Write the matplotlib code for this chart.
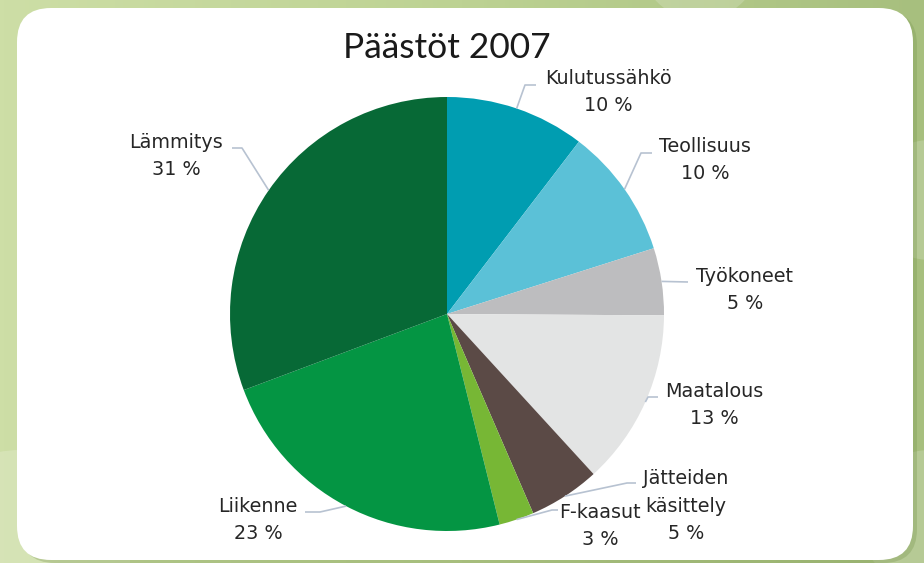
import numpy as np
import matplotlib
matplotlib.use("Agg")
import matplotlib.pyplot as plt
from matplotlib.patches import FancyBboxPatch, Circle
from matplotlib.colors import LinearSegmentedColormap

# data (share of emissions, %)
categories = ["Kulutussähkö", "Teollisuus", "Työkoneet", "Maatalous",
              "Jätteiden\nkäsittely", "F-kaasut", "Liikenne", "Lämmitys"]
shares = [10.4, 9.7, 5.0, 13.1, 5.3, 2.6, 23.2, 30.7]
colors = ["#009DB1", "#5BC1D7", "#BDBDBF", "#E3E4E4",
          "#5B4A46", "#77B735", "#049543", "#076936"]
title = "Päästöt 2007"

W, H = 924, 563
cx, cy, R = 447, 314, 217   # pie centre / radius in px (y from top)

# label layout: text centre (px from top) and elbow of the leader line
label_pos = [(608, 92), (705, 160), (745, 290), (714, 405),
             (686, 506), (600, 526), (258, 520), (176, 156)]
elbows = [[(525, 85), (536, 85)], [(641, 153), (652, 153)],
          [(688, 282)], [(648, 397), (658, 397)],
          [(627, 483), (636, 483)], [(552, 510), (558, 510)],
          [(320, 512), (305, 512)], [(242, 148), (232, 148)]]


def ty(y):
    return H - y


fig = plt.figure(figsize=(W / 100, H / 100), dpi=100)
ax = fig.add_axes([0, 0, 1, 1])

# green background with soft gradient
bg = LinearSegmentedColormap.from_list("bg", ["#CDDEA6", "#BDD293", "#A7BF7E"])
ax.imshow(np.linspace(0, 1, 256)[None, :], cmap=bg, aspect="auto",
          extent=[0, W, 0, H], zorder=0)
for (x, y, r) in [(20, 560, 110), (930, 200, 60), (930, 520, 70), (700, -40, 60)]:
    ax.add_patch(Circle((x, ty(y)), r, color="white", alpha=0.18, lw=0, zorder=1))

# card
ax.add_patch(FancyBboxPatch((21, ty(563)), 896, 552,
                            boxstyle="round,pad=0,rounding_size=34",
                            fc="#7E9A55", ec="none", alpha=0.35, zorder=2))
ax.add_patch(FancyBboxPatch((17, ty(560)), 896, 552,
                            boxstyle="round,pad=0,rounding_size=34",
                            fc="white", ec="none", zorder=3))

wedges, _ = ax.pie(shares, colors=colors, startangle=90, counterclock=False,
                   center=(cx, ty(cy)), radius=R,
                   wedgeprops=dict(linewidth=0))
for w in wedges:
    w.set_zorder(4)

for w, name, val, (lx, ly), elb in zip(wedges, categories, shares, label_pos, elbows):
    mid = np.deg2rad((w.theta1 + w.theta2) / 2)
    pts = [(cx + R * np.cos(mid), ty(cy) + R * np.sin(mid))]
    pts += [(x, ty(y)) for x, y in elb]
    xs, ys = zip(*pts)
    ax.plot(xs, ys, color="#B7C2D1", lw=1.2, zorder=5, solid_capstyle="butt")
    ax.text(lx, ty(ly), f"{name}\n{round(val):d} %", ha="center", va="center",
            fontsize=13.8, color="#262626", linespacing=1.55, zorder=6,
            family="DejaVu Sans")

ax.text(cx, ty(48), title, ha="center", va="center", fontsize=25.5,
        family="Lato", color="#1A1A1A", zorder=6)

ax.set_xlim(0, W)
ax.set_ylim(0, H)
ax.set_aspect("equal")
ax.axis("off")

fig.savefig("out.png", dpi=100)
